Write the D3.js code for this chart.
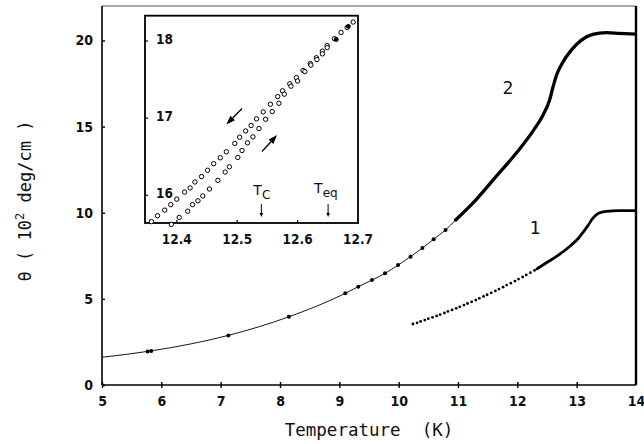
<!DOCTYPE html>
<html>
<head>
<meta charset="utf-8">
<script src="https://cdn.jsdelivr.net/npm/d3@7"></script>
<style>
html,body{margin:0;padding:0;background:#fff;}
svg{display:block;}
.tick text{font-family:"Liberation Sans Narrow","DejaVu Sans Condensed",sans-serif;font-weight:bold;font-size:14px;fill:#111;}
</style>
</head>
<body>
<svg id="chart" width="644" height="444"></svg>
<script>
// ---------- data ----------
const xTicks = [5,6,7,8,9,10,11,12,13,14];
const yTicks = [0,5,10,15,20];

// curve 2 : thin fitted line (T, theta)
const c2ThinT = [5.0, 5.81, 7.13, 8.15, 9.10, 9.32, 9.55, 9.77, 9.99, 10.20, 10.40, 10.59, 10.79, 10.96];
const c2ThinV = [1.61, 1.97, 2.88, 3.96, 5.32, 5.71, 6.09, 6.48, 6.96, 7.45, 7.95, 8.46, 9.00, 9.58];
// curve 2 : measured dots on the thin line
const c2DotT = [5.77, 5.83, 7.13, 8.15, 9.10, 9.32, 9.55, 9.77, 9.99, 10.20, 10.40, 10.59, 10.79];
const c2DotV = [1.95, 1.98, 2.88, 3.96, 5.32, 5.71, 6.09, 6.48, 6.96, 7.45, 7.95, 8.46, 9.00];
// curve 2 : thick (dense data)
const c2ThickT = [10.96, 11.31, 11.64, 11.98, 12.26, 12.44, 12.54, 12.60, 12.66, 12.76, 12.91, 13.08, 13.27, 13.50, 13.72, 13.99];
const c2ThickV = [9.58, 10.78, 12.10, 13.45, 14.72, 15.72, 16.50, 17.28, 17.98, 18.70, 19.44, 20.02, 20.35, 20.45, 20.41, 20.37];

// curve 1 : dotted part
const c1DotT = [10.24,10.31,10.37,10.44,10.50,10.57,10.64,10.70,10.77,10.83,10.90,10.97,11.03,11.10,11.16,11.23,11.30,11.36,11.43,11.49,11.56,11.63,11.69,11.76,11.82,11.89,11.96,12.02,12.09,12.15,12.22,12.29];
const c1DotV = [3.54,3.61,3.69,3.77,3.85,3.93,4.01,4.09,4.18,4.27,4.36,4.45,4.54,4.64,4.73,4.83,4.93,5.03,5.14,5.24,5.35,5.46,5.57,5.68,5.80,5.91,6.03,6.15,6.27,6.39,6.52,6.65];
// curve 1 : thick part
const c1ThickT = [12.33, 12.51, 12.71, 12.90, 13.03, 13.12, 13.19, 13.27, 13.36, 13.50, 13.72, 13.99];
const c1ThickV = [6.74, 7.14, 7.58, 8.10, 8.52, 8.92, 9.25, 9.67, 9.96, 10.08, 10.12, 10.12];

// inset : cooling branch (upper)
const coolT = [12.358,12.368,12.380,12.390,12.400,12.413,12.422,12.430,12.441,12.451,12.461,12.472,12.482,12.496,12.504,12.514,12.523,12.532,12.543,12.555,12.567,12.575,12.587,12.598,12.609,12.621,12.631,12.641,12.649,12.661,12.672,12.682,12.692];
const coolV = [15.658,15.734,15.807,15.878,15.950,16.041,16.095,16.172,16.243,16.324,16.409,16.486,16.564,16.672,16.753,16.834,16.905,16.991,17.081,17.180,17.280,17.355,17.446,17.527,17.618,17.707,17.784,17.869,17.942,18.031,18.112,18.176,18.247];
// inset : heating branch (lower)
const heatT = [12.391,12.404,12.418,12.426,12.435,12.443,12.454,12.468,12.480,12.487,12.501,12.508,12.517,12.526,12.536,12.547,12.558,12.569,12.578,12.589,12.600,12.612,12.622,12.632,12.641,12.649];
const heatV = [15.622,15.712,15.793,15.878,15.928,15.991,16.081,16.193,16.301,16.369,16.491,16.581,16.680,16.757,16.865,16.986,17.085,17.193,17.311,17.415,17.482,17.604,17.689,17.761,17.834,17.915];
// inset : overlapping (filled-looking) points near top
const overlapT = [12.664, 12.684];
const overlapV = [18.02, 18.19];
const insetXTicks = [12.4, 12.5, 12.6, 12.7];
const insetYTicks = [16, 17, 18];
const Tc = 12.540, Teq = 12.6505;

// ---------- layout ----------
const svg = d3.select("#chart");
const x = d3.scaleLinear().domain([5, 14]).range([102, 636]);
const y = d3.scaleLinear().domain([0, 22]).range([385, 6]);
const ix = d3.scaleLinear().domain([12.3473, 12.70]).range([145, 358]);
const iy = d3.scaleLinear().domain([15.64, 18.329]).range([223, 15.7]);

const zip = (a, b) => a.map((v, i) => [v, b[i]]);

// frame: top & right
svg.append("line").attr("x1", x(5)).attr("x2", x(14)).attr("y1", y(22)).attr("y2", y(22))
  .attr("stroke", "#555").attr("stroke-width", 1);
svg.append("line").attr("x1", x(14)).attr("x2", x(14)).attr("y1", y(22)).attr("y2", y(0))
  .attr("stroke", "#000").attr("stroke-width", 2.4);

// axes
const gx = svg.append("g").attr("transform", `translate(0,${y(0)})`)
  .call(d3.axisBottom(x).tickValues(xTicks).tickFormat(d3.format("d")).tickSize(3).tickPadding(7));
gx.select(".domain").attr("stroke-width", 1.6).attr("d", `M${x(5)},0H${x(14)}`);
gx.selectAll(".tick line").attr("y1", -3).attr("stroke-width", 1.4);
gx.selectAll(".tick").filter(d => d === 14).select("line").remove();
gx.selectAll(".tick text").attr("dy", "0.8em");

const gy = svg.append("g").attr("transform", `translate(${x(5)},0)`)
  .call(d3.axisLeft(y).tickValues(yTicks).tickFormat(d3.format("d")).tickSize(3).tickPadding(6));
gy.select(".domain").attr("stroke-width", 1.6).attr("d", `M0,${y(0)}V${y(22)}`);
gy.selectAll(".tick line").attr("x2", 3).attr("stroke-width", 1.4);

// axis titles
svg.append("text").attr("x", 369).attr("y", 436).attr("text-anchor", "middle")
  .attr("font-family", "DejaVu Sans Mono").attr("font-size", 17.5).attr("fill", "#111")
  .style("white-space", "pre").text("Temperature  (K)");

const yt = svg.append("text").attr("transform", "translate(31,201) rotate(-90)")
  .attr("text-anchor", "middle").attr("font-family", "DejaVu Sans Mono")
  .attr("font-size", 17).attr("fill", "#111").style("white-space", "pre");
yt.append("tspan").text("θ ( 10");
yt.append("tspan").attr("font-size", 12).attr("dy", -7).text("2");
yt.append("tspan").attr("dy", 7).text(" deg/cm )");

// curves
const line = d3.line().x(d => x(d[0])).y(d => y(d[1])).curve(d3.curveMonotoneX);
svg.append("path").datum(zip(c2ThinT, c2ThinV)).attr("d", line)
  .attr("fill", "none").attr("stroke", "#000").attr("stroke-width", 0.9);
svg.append("path").datum(zip(c2ThickT, c2ThickV)).attr("d", line)
  .attr("fill", "none").attr("stroke", "#000").attr("stroke-width", 3.3).attr("stroke-linecap", "round");
svg.append("g").selectAll("circle").data(zip(c2DotT, c2DotV)).join("circle")
  .attr("cx", d => x(d[0])).attr("cy", d => y(d[1])).attr("r", 2).attr("fill", "#000");

svg.append("g").selectAll("circle").data(zip(c1DotT, c1DotV)).join("circle")
  .attr("cx", d => x(d[0])).attr("cy", d => y(d[1])).attr("r", 1.4).attr("fill", "#000");
svg.append("path").datum(zip(c1ThickT, c1ThickV)).attr("d", line)
  .attr("fill", "none").attr("stroke", "#000").attr("stroke-width", 2.8).attr("stroke-linecap", "round");

// curve labels
svg.append("text").attr("x", 508).attr("y", 94).attr("text-anchor", "middle")
  .attr("font-family", "DejaVu Sans Mono").attr("font-size", 18).attr("fill", "#111").text("2");
svg.append("text").attr("x", 535).attr("y", 234).attr("text-anchor", "middle")
  .attr("font-family", "DejaVu Sans Mono").attr("font-size", 18).attr("fill", "#111").text("1");

// ---------- inset ----------
const inset = svg.append("g");
inset.append("rect").attr("x", ix(12.3473)).attr("y", iy(18.329))
  .attr("width", ix(12.70) - ix(12.3473)).attr("height", iy(15.64) - iy(18.329))
  .attr("fill", "#fff").attr("stroke", "#000").attr("stroke-width", 1.8);

// inset ticks (inward)
inset.append("g").selectAll("line").data(insetXTicks.slice(0, 3)).join("line")
  .attr("x1", d => ix(d)).attr("x2", d => ix(d)).attr("y1", iy(15.64)).attr("y2", iy(15.64) - 3)
  .attr("stroke", "#000").attr("stroke-width", 1.2);
inset.append("g").selectAll("line").data(insetYTicks).join("line")
  .attr("x1", ix(12.3473)).attr("x2", ix(12.3473) + 3).attr("y1", d => iy(d)).attr("y2", d => iy(d))
  .attr("stroke", "#000").attr("stroke-width", 1.2);

const tf = "'Liberation Sans Narrow','DejaVu Sans Condensed',sans-serif";
inset.append("g").selectAll("text").data(insetXTicks).join("text")
  .attr("x", d => ix(d)).attr("y", iy(15.64) + 21).attr("text-anchor", "middle")
  .attr("font-family", tf).attr("font-weight", "bold").attr("font-size", 13.5).attr("fill", "#111")
  .text(d => d.toFixed(1));
inset.append("g").selectAll("text").data(insetYTicks).join("text")
  .attr("x", ix(12.3473) + 11).attr("y", d => iy(d) + 3).attr("text-anchor", "start")
  .attr("font-family", tf).attr("font-weight", "bold").attr("font-size", 13.5).attr("fill", "#111")
  .text(d => d);

// inset data
inset.append("g").selectAll("circle").data(zip(coolT, coolV).concat(zip(heatT, heatV))).join("circle")
  .attr("cx", d => ix(d[0])).attr("cy", d => iy(d[1])).attr("r", 2.2)
  .attr("fill", "#fff").attr("stroke", "#000").attr("stroke-width", 1);
inset.append("g").selectAll("circle").data(zip(overlapT, overlapV)).join("circle")
  .attr("cx", d => ix(d[0])).attr("cy", d => iy(d[1])).attr("r", 2.4).attr("fill", "#000");

// direction arrows
function arrow(g, x1, y1, x2, y2, head, w, sw) {
  const dx = x2 - x1, dy = y2 - y1, L = Math.hypot(dx, dy);
  const ux = dx / L, uy = dy / L;
  const bx = x2 - ux * head, by = y2 - uy * head;
  g.append("line").attr("x1", x1).attr("y1", y1).attr("x2", bx).attr("y2", by)
    .attr("stroke", "#000").attr("stroke-width", sw);
  g.append("path").attr("d", `M${x2},${y2}L${bx - uy * w},${by + ux * w}L${bx + uy * w},${by - ux * w}Z`)
    .attr("fill", "#000");
}
arrow(inset, ix(12.508), iy(17.126), ix(12.482), iy(16.918), 9, 3.2, 1.3);
arrow(inset, ix(12.541), iy(16.568), ix(12.566), iy(16.78), 9, 3.2, 1.3);
arrow(inset, ix(Tc), iy(15.886), ix(Tc), iy(15.717), 4, 1.8, 1);
arrow(inset, ix(Teq), iy(15.886), ix(Teq), iy(15.717), 4, 1.8, 1);

// Tc / Teq labels
const lf = "DejaVu Sans";
const tc = inset.append("text").attr("x", ix(Tc) - 8).attr("y", iy(15.886) - 9)
  .attr("font-family", lf).attr("font-size", 14).attr("fill", "#111");
tc.append("tspan").text("T");
tc.append("tspan").attr("font-size", 12).attr("dy", 4).text("C");
const te = inset.append("text").attr("x", ix(Teq) - 14).attr("y", iy(15.886) - 11)
  .attr("font-family", lf).attr("font-size", 14).attr("fill", "#111");
te.append("tspan").text("T");
te.append("tspan").attr("font-size", 12).attr("dy", 4).text("eq");
</script>
</body>
</html>
